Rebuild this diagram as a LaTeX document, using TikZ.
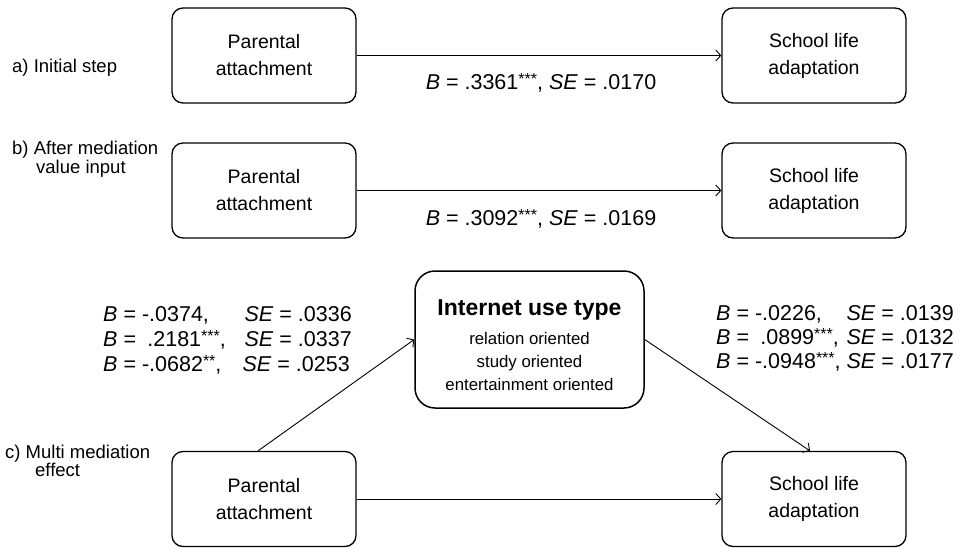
\documentclass[tikz,border=0pt]{standalone}
\usepackage{fontspec}
\setmainfont{Liberation Sans}
\usetikzlibrary{arrows.meta,calc}
\newcommand{\stars}[1]{\raisebox{0.2em}{\fontsize{16}{16}\selectfont #1}}
\begin{document}
\begin{tikzpicture}[x=1pt,y=-1pt,
  box/.style={draw,line width=1.3pt,rounded corners=11pt,minimum width=184pt,minimum height=95pt,align=center,font=\fontsize{19.5}{27}\selectfont,inner sep=0pt},
  mbox/.style={draw,line width=1.5pt,rounded corners=20pt,minimum width=229pt,minimum height=137pt,align=center,font=\fontsize{16.8}{23}\selectfont,inner sep=0pt},
  conn/.style={line width=0.9pt,-{Straight Barb[length=5pt,width=11pt]}},
  stat/.style={font=\fontsize{21.5}{22}\selectfont,inner sep=0pt},
  lab/.style={font=\fontsize{18.5}{19}\selectfont,align=left,inner sep=0pt,anchor=base west}]
\useasboundingbox (0,0) rectangle (959,547);
% row a
\node[box] (Pa) at (264,55.5) {Parental\\attachment};
\node[box] (Sa) at (814,55.5) {School life\\adaptation};
\draw[conn] (Pa) -- (Sa);
\node[stat,anchor=base] (sa) at (541,89) {\textit{B} = .3361\stars{***}, \textit{SE} = .0170};
\node[lab] (la) at (12,72) {a) Initial step};
% row b
\node[box] (Pb) at (264,190.5) {Parental\\attachment};
\node[box] (Sb) at (814,190.5) {School life\\adaptation};
\draw[conn] (Pb) -- (Sb);
\node[stat,anchor=base] (sb) at (541,225) {\textit{B} = .3092\stars{***}, \textit{SE} = .0169};
\node[lab] (lb1) at (12,154) {b) After mediation};
\node[lab] (lb2) at (36,173) {value input};
% row c
\node[box] (Pc) at (264,499) {Parental\\attachment};
\node[box] (Sc) at (814,499) {School life\\adaptation};
\node[mbox] (I) at (529.5,339.5) {\rule{0pt}{26.5pt}{\fontsize{23}{23}\selectfont\bfseries Internet use type}\\[6pt]relation oriented\\study oriented\\entertainment oriented};
\draw[conn] (Pc) -- (Sc);
\draw[conn] ($(Pc.north)+(-6,0)$) -- (I.west);
\draw[conn] (I.east) -- ($(Sc.north)+(-4,0)$);
\node[lab] (lc1) at (5,458) {c) Multi mediation};
\node[lab] (lc2) at (35,476) {effect};
% left stats
\node[stat,anchor=base west] (l1b) at (103,321) {\textit{B} = -.0374,};
\node[stat,anchor=base east] (l1s) at (352,321) {\textit{SE} = .0336};
\node[stat,anchor=base west] (l2b) at (103,346) {\textit{B} = \hspace{0.25em}.2181\stars{***},};
\node[stat,anchor=base east] (l2s) at (352,346) {\textit{SE} = .0337};
\node[stat,anchor=base west] (l3b) at (103,371) {\textit{B} = -.0682\stars{**},};
\node[stat,anchor=base east] (l3s) at (350,371) {\textit{SE} = .0253};
% right stats
\node[stat,anchor=base west] (r1b) at (716,320) {\textit{B} = -.0226,};
\node[stat,anchor=base east] (r1s) at (954,320) {\textit{SE} = .0139};
\node[stat,anchor=base west] (r2b) at (716,344) {\textit{B} = \hspace{0.25em}.0899\stars{***},};
\node[stat,anchor=base east] (r2s) at (954,344) {\textit{SE} = .0132};
\node[stat,anchor=base west] (r3b) at (716,368) {\textit{B} = -.0948\stars{***},};
\node[stat,anchor=base east] (r3s) at (954,368) {\textit{SE} = .0177};
\end{tikzpicture}
\end{document}
